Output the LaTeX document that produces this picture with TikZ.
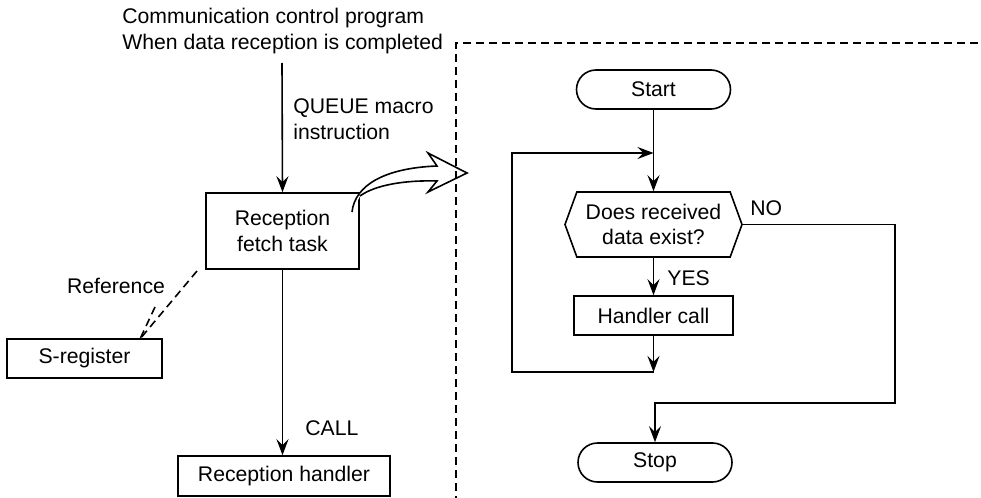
\documentclass[tikz,border=0pt]{standalone}
\usepackage{fontspec}
\setmainfont{Liberation Sans}
\usetikzlibrary{positioning,arrows.meta,shapes.misc,shapes.symbols}

\begin{document}
\begin{tikzpicture}[
            x=0.5pt,y=-0.5pt,
            font=\fontsize{10.6}{12.8}\selectfont,
            every node/.style={inner sep=0pt},
            blk/.style={
                    draw,
                    line width=0.8pt,
                    align=center
                },
            term/.style={
                    draw,
                    line width=0.8pt,
                    rounded rectangle,
                    minimum width=77pt,
                    minimum height=19.5pt
                },
            hexa/.style={
                    draw,
                    line width=0.8pt,
                    signal,
                    signal to=east and west,
                    signal pointer angle=140,
                    align=center,
                    minimum width=88.5pt,
                    minimum height=32.5pt
                },
            flow/.style={line width=0.8pt,-{Stealth[length=8pt,width=6pt,inset=3pt]}},
            wire/.style={line width=0.8pt},
            frame/.style={line width=0.8pt,dash pattern=on 4pt off 2.5pt}
        ]
        \useasboundingbox (0,0) rectangle (981,498);

        % left side
        \node[align=left,anchor=north west] (src) at (122,8)
        {Communication control program\\When data reception is completed};
        \coordinate (srcout) at (282,63);
        \node[blk,minimum width=76.5pt,minimum height=38pt] (fetch) at (282.5,231)
        {Reception\\fetch task};
        \node[align=left,anchor=west] (queue) at (293,119) {QUEUE macro\\instruction};
        \node[blk,minimum width=106pt,minimum height=20pt] (handler) at (284,476)
        {Reception handler};
        \node[anchor=west] (call) at (305,428) {CALL};
        \node[blk,minimum width=77.5pt,minimum height=19.5pt] (sreg) at (84.5,358.5)
        {S-register};
        \node (ref) at (116,286) {Reference};

        \draw[flow] (srcout) -- (fetch.north);
        \draw[flow] (fetch.south) -- (fetch.south|-handler.north);
        \draw[frame] (197,271) -- (140,339);
        \draw[frame] (155,307) -- (140,339);

        % hollow arrow
        \draw[line width=0.8pt,fill=white] (352,212)
            .. controls (355,185) and (385,168) .. (437,166)
            -- (428,153) -- (467,173) -- (428,192) -- (437,181)
            .. controls (405,180) and (375,185) .. (360,196);

        % boundary
        \draw[frame] (978,43) -- (456,43) -- (456,498);

        % right side
        \node[term] (start) at (653.5,89.5) {Start};
        \node[hexa] (check) at (653.5,224.5) {Does received\\data exist?};
        \node[blk,minimum width=79.5pt,minimum height=19.5pt] (hcall) at (653.5,315.5) {Handler call};
        \node[term] (stop) at (655,462.5) {Stop};
        \node[anchor=west] (no) at (750,208) {NO};
        \node[anchor=west] (yes) at (667,278) {YES};

        \coordinate (join) at (653.5,153);
        \coordinate (back) at (653.5,372);
        \coordinate (nobend) at (895,224.5);
        \coordinate (stopin) at (655,403);

        \draw[wire] (start.south) -- (join);
        \draw[flow] (join) -- (check.north);
        \draw[flow] (check.south) -- (hcall.north);
        \draw[flow] (hcall.south) -- (back);
        \draw[flow] (back) -- (512,372) -- (512,153) -- (join);
        \draw[flow] (check.east) -- (nobend) -- (nobend|-stopin) -- (stopin) -- (stop.north);
\end{tikzpicture}
\end{document}
